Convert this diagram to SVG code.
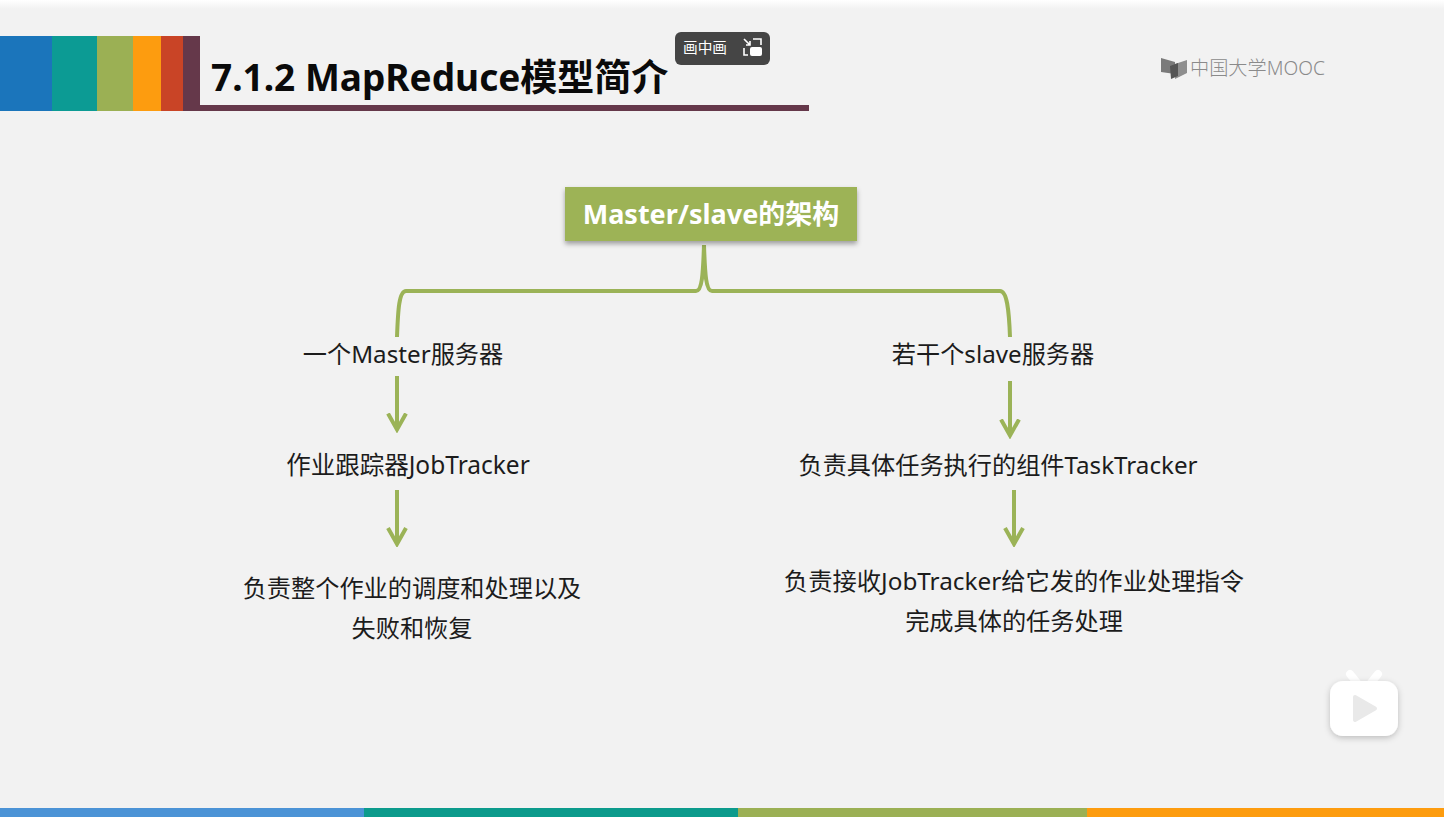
<svg xmlns="http://www.w3.org/2000/svg" width="1444" height="817" viewBox="0 0 1444 817">
<style>
text{font-family:"Noto Sans","Noto Sans CJK SC",sans-serif}
.t{font-size:24.200px;fill:#1c1c1c;text-anchor:middle}
.c{fill:none;stroke:#9bb357;stroke-width:4}
.a{fill:none;stroke:#9bb357;stroke-width:4}
</style>
<defs>
<linearGradient id="top" x1="0" y1="0" x2="0" y2="1"><stop offset="0" stop-color="#ffffff"/><stop offset="1" stop-color="#f2f2f2"/></linearGradient>
<filter id="s" x="-10%" y="-20%" width="120%" height="150%"><feDropShadow dx="0" dy="3" stdDeviation="2.5" flood-color="#000" flood-opacity=".35"/></filter>
<filter id="p" x="-30%" y="-30%" width="160%" height="170%"><feDropShadow dx="0" dy="2" stdDeviation="3" flood-color="#000" flood-opacity=".22"/></filter>
<marker id="h" markerUnits="userSpaceOnUse" markerWidth="20" markerHeight="24" refX="17" refY="12" orient="auto" viewBox="0 0 20 24"><path d="M1 3L17 12L1 21" fill="none" stroke="#9bb357" stroke-width="4"/></marker>
</defs>
<rect width="1444" height="817" fill="#f2f2f2"/>
<rect width="1444" height="9" fill="url(#top)"/>
<g id="header">
<rect x="0" y="36" width="52" height="75" fill="#1b75bb"/>
<rect x="52" y="36" width="45" height="75" fill="#0c9b94"/>
<rect x="97" y="36" width="36" height="75" fill="#9bb054"/>
<rect x="133" y="36" width="28" height="75" fill="#fd9c0f"/>
<rect x="161" y="36" width="22" height="75" fill="#c94426"/>
<path d="M183 36H200V105H809V111H183Z" fill="#65384a"/>
<text x="211" y="91" font-size="37" font-weight="700" fill="#0a0a0a">7.1.2 MapReduce模型简介</text>
</g>
<g id="pip">
<rect x="675" y="32" width="95" height="33" rx="6" fill="#454545"/>
<text x="705" y="53" font-size="14.700" fill="#fff" text-anchor="middle">画中画</text>
<path d="M744 39l6 6M750 41v4h-4M753 39h8v6M744 48v7h4" fill="none" stroke="#fff" stroke-width="1.600"/>
<rect x="750" y="47" width="12" height="9" rx="2" fill="#fff"/>
</g>
<g id="logo">
<path d="M1161 58L1175 62V74L1161 72Z" fill="#7a7a7a"/>
<path d="M1175 64L1187 60V73L1175 79Z" fill="#8e8e8e"/>
<path d="M1170 66L1178 63V76L1171 79Z" fill="#555"/>
<text x="1190" y="75" font-size="19.200" font-weight="300" fill="#8a8a8a">中国大学MOOC</text>
</g>
<g id="connectors">
<path class="c" d="M397 337C398 310 399 291 406 291H696C702 291 703 275 704 245C705 275 706 291 712 291H1000C1007 291 1009 310 1010 337"/>
<path class="a" d="M397 376V429.500" marker-end="url(#h)"/>
<path class="a" d="M397 490V544" marker-end="url(#h)"/>
<path class="a" d="M1010 381V435.500" marker-end="url(#h)"/>
<path class="a" d="M1014 490V544" marker-end="url(#h)"/>
</g>
<g id="root">
<rect x="565" y="187" width="292" height="54" fill="#9db357" filter="url(#s)"/>
<text x="711" y="224" font-size="27" font-weight="700" fill="#fff" text-anchor="middle">Master/slave的架构</text>
</g>
<g id="n1"><text class="t" x="403" y="363">一个Master服务器</text></g>
<g id="n2"><text class="t" x="408" y="474" style="font-size:24.500px">作业跟踪器JobTracker</text></g>
<g id="n3"><text class="t" x="412" y="597">负责整个作业的调度和处理以及</text><text class="t" x="412" y="637">失败和恢复</text></g>
<g id="n4"><text class="t" x="993" y="363">若干个slave服务器</text></g>
<g id="n5"><text class="t" x="998" y="474">负责具体任务执行的组件TaskTracker</text></g>
<g id="n6"><text class="t" x="1014" y="590" style="font-size:24.300px">负责接收JobTracker给它发的作业处理指令</text><text class="t" x="1014" y="630">完成具体的任务处理</text></g>
<g id="play">
<path d="M1350 674L1358 684M1378 674L1370 684" stroke="#fff" stroke-width="8" stroke-linecap="round" fill="none"/>
<rect x="1330" y="681" width="68" height="55" rx="13" fill="#fff" filter="url(#p)"/>
<path d="M1355 697L1375 708.500L1355 720Z" fill="#e9e9e9" stroke="#e9e9e9" stroke-width="4" stroke-linejoin="round"/>
</g>
<g id="footer">
<rect x="0" y="808" width="364" height="9" fill="#4b93d6"/>
<rect x="364" y="808" width="374" height="9" fill="#0c9b8c"/>
<rect x="738" y="808" width="349" height="9" fill="#9bb054"/>
<rect x="1087" y="808" width="357" height="9" fill="#fd9c0f"/>
</g>
</svg>
